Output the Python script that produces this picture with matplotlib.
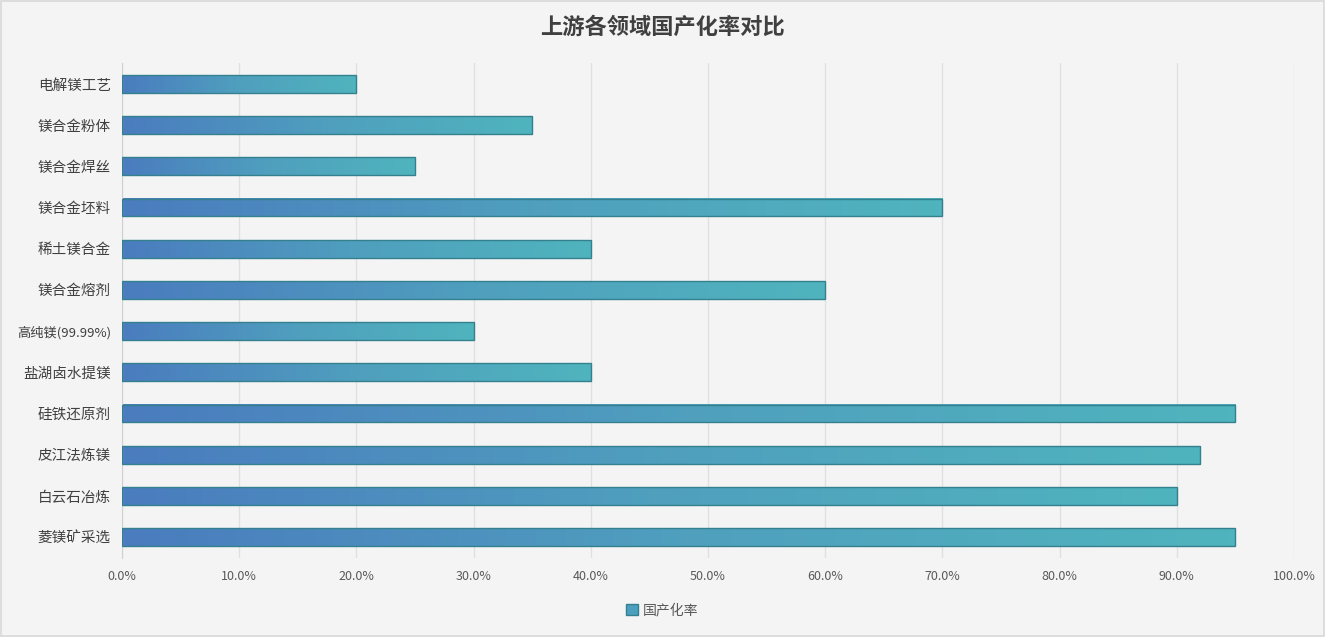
import numpy as np
import matplotlib.pyplot as plt
from matplotlib.colors import LinearSegmentedColormap
from matplotlib.patches import Rectangle
from matplotlib.ticker import FuncFormatter

plt.rcParams['font.family'] = ['Noto Sans CJK SC', 'DejaVu Sans']

# data, top to bottom as in the chart
categories = ['电解镁工艺', '镁合金粉体', '镁合金焊丝', '镁合金坯料', '稀土镁合金', '镁合金熔剂',
              '高纯镁(99.99%)', '盐湖卤水提镁', '硅铁还原剂', '皮江法炼镁', '白云石冶炼', '菱镁矿采选']
rates = [0.20, 0.35, 0.25, 0.70, 0.40, 0.60, 0.30, 0.40, 0.95, 0.92, 0.90, 0.95]
series_name = '国产化率'

bg = '#f4f4f4'
cmap = LinearSegmentedColormap.from_list('bar', ['#4a7cbf', '#4f9fbe', '#4fb4bd'])

fig = plt.figure(figsize=(13.25, 6.37), dpi=100, facecolor=bg)
fig.patches.append(Rectangle((0.001, 0.002), 0.998, 0.996, transform=fig.transFigure,
                             fill=False, edgecolor='#d9d9d9', linewidth=1.2))
ax = fig.add_axes([0.0921, 0.1246, 0.8845, 0.7759])
ax.set_facecolor(bg)

n = len(categories)
ypos = np.arange(n)[::-1]
h = 0.43
grad = np.linspace(0, 1, 256).reshape(1, -1)
for y, v in zip(ypos, rates):
    ax.imshow(grad, cmap=cmap, aspect='auto', extent=(0, v, y - h / 2, y + h / 2),
              interpolation='bicubic', zorder=2)
bars = ax.barh(ypos, rates, height=h, facecolor='none', edgecolor='#35808f',
               linewidth=1.0, zorder=3)

ax.set_xlim(0, 1.0)
ax.set_ylim(-0.5, n - 0.5)
ax.set_xticks(np.arange(0, 1.01, 0.1))
ax.xaxis.set_major_formatter(FuncFormatter(lambda x, p: f'{x * 100:.1f}%'))
ax.set_yticks(ypos)
ax.set_yticklabels(categories)
ax.grid(axis='x', color='#e0e0e0', linewidth=1, zorder=0)
ax.set_axisbelow(True)
for s in ['top', 'right', 'bottom']:
    ax.spines[s].set_visible(False)
ax.spines['left'].set_color('#d0d0d0')
ax.tick_params(axis='both', length=0)
ax.tick_params(axis='y', labelsize=10.5, labelcolor='#404040', pad=8)
ax.tick_params(axis='x', labelsize=9, labelcolor='#595959', pad=9)
for lbl in ax.get_yticklabels():
    if '(' in lbl.get_text():
        lbl.set_fontsize(9.5)

fig.text(0.5, 0.957, '上游各领域国产化率对比', ha='center', va='center',
         fontsize=16, fontweight='bold', color='#404040')

handle = Rectangle((0, 0), 1, 1, facecolor='#4c9fbe', edgecolor='#35808f')
fig.legend([handle], [series_name], loc='center', bbox_to_anchor=(0.5, 0.042),
           frameon=False, fontsize=10, labelcolor='#595959',
           handlelength=0.8, handleheight=0.8, handletextpad=0.4)

fig.savefig('out.png', dpi=100, facecolor=bg)
